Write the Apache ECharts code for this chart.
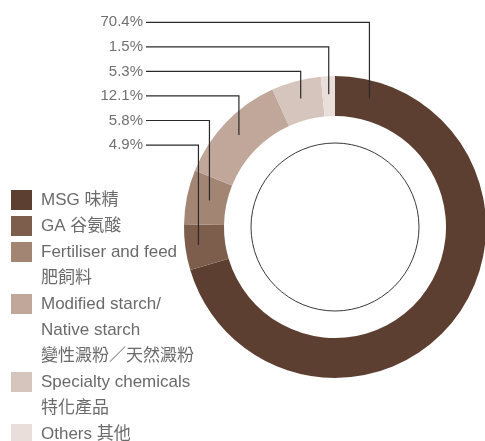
<!DOCTYPE html>
<html>
<head>
<meta charset="utf-8">
<script src="https://cdn.jsdelivr.net/npm/echarts@6/dist/echarts.min.js"></script>
<style>
  html, body { margin: 0; padding: 0; background: #ffffff; }
  #chart { width: 485px; height: 441px; }
</style>
</head>
<body>
<div id="chart"></div>
<script>
// ---- data ----
const categories = [
  'MSG 味精',
  'GA 谷氨酸',
  'Fertiliser and feed 肥飼料',
  'Modified starch/Native starch 變性澱粉／天然澱粉',
  'Specialty chemicals 特化產品',
  'Others 其他'
];
const legendLines = [
  ['MSG 味精'],
  ['GA 谷氨酸'],
  ['Fertiliser and feed', '肥飼料'],
  ['Modified starch/', 'Native starch', '變性澱粉／天然澱粉'],
  ['Specialty chemicals', '特化產品'],
  ['Others 其他']
];
const shares = [70.4, 4.9, 5.8, 12.1, 5.3, 1.5];
const colors = ['#5c3f30', '#7d5d4c', '#a38574', '#c1a799', '#d6c5bc', '#e9ded9'];

// ---- layout ----
const FONT = "'Liberation Sans', 'Noto Sans CJK TC', sans-serif";
const CX = 335, CY = 227, R0 = 111, R1 = 151;
const ANCHOR_R = 133, MIN_SEP = 11;
const LABEL_RIGHT = 143, LABEL_TOP = 22.3, LABEL_STEP = 24.55, LINE_START = 146;
const LEG_LH = 26, LEG_TOP = 190, LEG_ICON_H = 20;

const total = shares.reduce((a, b) => a + b, 0);
const n = shares.length;
const starts = [];
let acc = 0;
shares.forEach(v => { starts.push(acc / total * 360); acc += v; });

// label rows: largest slice first, then counter-clockwise order
const rowOf = i => (n - i) % n;

// anchor points inside the ring, derived from slice angles
const anchors = shares.map((v, i) => {
  const span = v / total * 360;
  const a = span > 180 ? starts[i] + 15 : starts[i] + span / 2;
  const rad = a * Math.PI / 180;
  return [CX + ANCHOR_R * Math.sin(rad), CY - ANCHOR_R * Math.cos(rad)];
});
// keep vertical leader lines apart (rows top->bottom must step left)
const byRow = [];
for (let i = 0; i < n; i++) byRow[rowOf(i)] = i;
for (let k = 0; k < n - 1; k++) {
  const A = anchors[byRow[k]], B = anchors[byRow[k + 1]];
  if (A[0] - B[0] < MIN_SEP) {
    const mid = (A[0] + B[0]) / 2;
    A[0] = mid + MIN_SEP / 2;
    B[0] = mid - MIN_SEP / 2;
  }
}

// one legend block per category so multi-line entries keep the swatch on the first line
const legends = [];
let lineCount = 0;
categories.forEach((c, i) => {
  const lines = legendLines[i].length;
  const iconTop = LEG_TOP + lineCount * LEG_LH;
  legends.push({
    orient: 'vertical',
    left: 11,
    top: iconTop + LEG_ICON_H / 2 - LEG_LH / 2 - (lines - 1) * LEG_LH,
    padding: 0,
    itemWidth: 21,
    itemHeight: LEG_ICON_H,
    icon: 'rect',
    selectedMode: false,
    data: [c],
    formatter: function (name) {
      return legendLines[categories.indexOf(name)].map(s => '{t|' + s + '}').join('\n');
    },
    textStyle: {
      color: '#6a6a6a', fontSize: 17, lineHeight: LEG_LH, fontFamily: FONT,
      padding: [(lines - 1) * LEG_LH, 0, 0, 4],
      rich: { t: { color: '#6a6a6a', fontSize: 17, lineHeight: LEG_LH, fontFamily: FONT } }
    }
  });
  lineCount += lines;
});

const chart = echarts.init(document.getElementById('chart'), null, { renderer: 'canvas' });

chart.setOption({
  animation: false,
  backgroundColor: '#ffffff',
  textStyle: { fontFamily: FONT },
  legend: legends,
  series: [
    {
      type: 'pie',
      name: 'circle',
      center: [CX, CY],
      radius: [0, 84],
      silent: true,
      z: 1,
      label: { show: false },
      labelLine: { show: false },
      itemStyle: { color: 'rgba(0,0,0,0)', borderColor: '#3a3a3a', borderWidth: 1 },
      data: [{ value: 1, name: '_circle' }]
    },
    {
      type: 'pie',
      name: 'Revenue',
      center: [CX, CY],
      radius: [R0, R1],
      startAngle: 90,
      clockwise: true,
      silent: true,
      z: 2,
      itemStyle: { borderWidth: 0 },
      emphasis: { scale: false },
      label: { show: false },
      labelLine: { show: false },
      data: categories.map((c, i) => ({ name: c, value: shares[i], itemStyle: { color: colors[i] } }))
    },
    {
      type: 'pie',
      name: 'labels',
      center: [CX, CY],
      radius: [R0, R1],
      startAngle: 90,
      clockwise: true,
      avoidLabelOverlap: false,
      silent: true,
      z: 3,
      itemStyle: { color: 'rgba(0,0,0,0)', borderWidth: 0 },
      emphasis: { scale: false },
      data: categories.map((c, i) => ({ name: c, value: shares[i] })),
      label: {
        show: true,
        position: 'outside',
        formatter: p => shares[p.dataIndex].toFixed(1) + '%',
        color: '#707070',
        fontSize: 15,
        fontFamily: FONT
      },
      labelLine: {
        show: true,
        smooth: false,
        lineStyle: { color: '#2a2a2a', width: 1.2 }
      },
      labelLayout: function (params) {
        const i = params.dataIndex;
        const y = LABEL_TOP + rowOf(i) * LABEL_STEP;
        const a = anchors[i];
        return {
          x: LABEL_RIGHT,
          y: y,
          align: 'right',
          verticalAlign: 'middle',
          labelLinePoints: [[LINE_START, y], [a[0], y], [a[0], a[1]]]
        };
      }
    }
  ]
});
</script>
</body>
</html>
